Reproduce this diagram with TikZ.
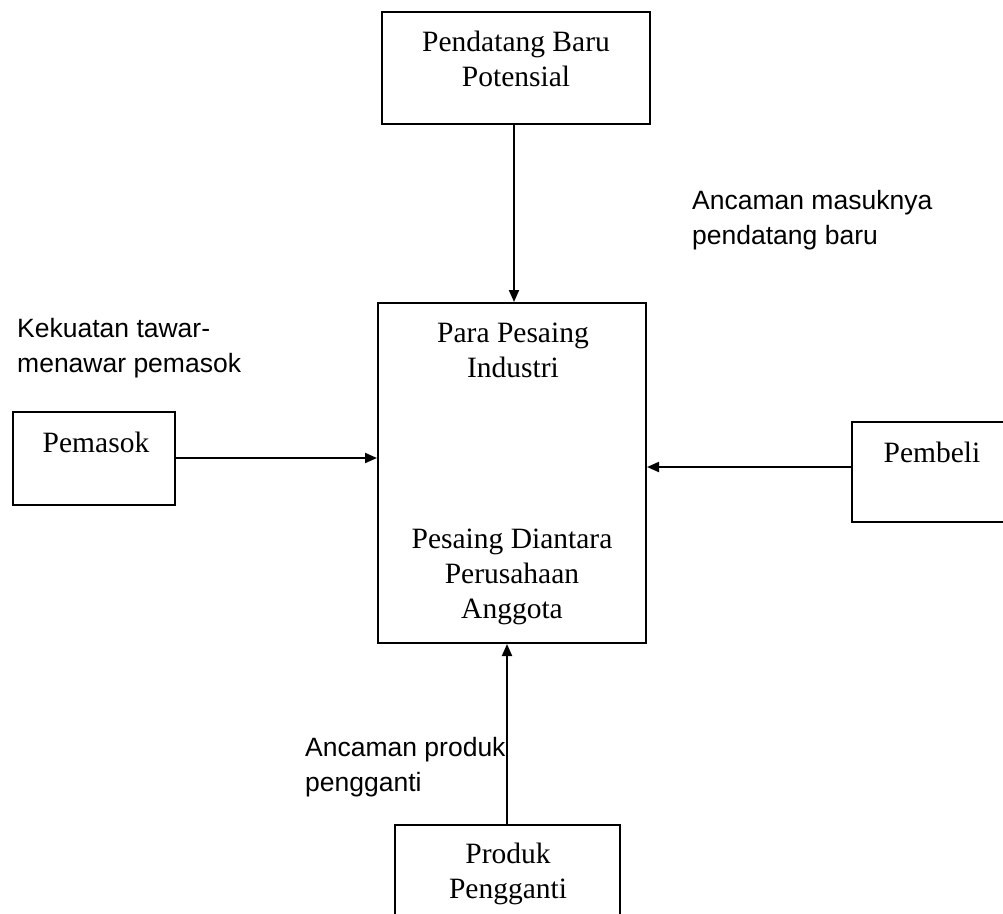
\documentclass[tikz,border=0pt]{standalone}
\usepackage{fontspec}
\setmainfont{Liberation Serif}
\newfontfamily\labelfont{Liberation Sans}
\usetikzlibrary{arrows.meta}
\begin{document}
\begin{tikzpicture}[x=1pt,y=-1pt,
  box/.style={draw, line width=2pt, inner sep=0pt},
  boxtext/.style={font=\fontsize{29.5}{35}\selectfont, align=center, inner sep=0pt},
  lbl/.style={font=\labelfont\fontsize{26.5}{35}\selectfont, align=left, anchor=west, inner sep=0pt},
  arr/.style={line width=2pt, -{Triangle[length=12pt,width=10pt]}}]
\useasboundingbox (0,0) rectangle (1003,913);
% boxes
\node[box, minimum width=268pt, minimum height=112pt] (top) at (516,68) {};
\node[boxtext] (toptext) at (516,58.5) {Pendatang Baru\\Potensial};
\node[box, minimum width=268pt, minimum height=340pt] (center) at (512,473) {};
\node[boxtext] (cpara) at (513,350) {Para Pesaing\\Industri};
\node[boxtext] (cpes) at (512,577) {Pesaing Diantara\\Perusahaan\\Anggota};
\node[box, minimum width=162pt, minimum height=93pt] (pemasok) at (94,458.5) {};
\node[boxtext] (pemasoktext) at (96,442) {Pemasok};
\node[box, minimum width=180pt, minimum height=100pt] (pembeli) at (942,472) {};
\node[boxtext] (pembelitext) at (932,452) {Pembeli};
\node[box, minimum width=225pt, minimum height=110pt] (produk) at (507.5,880) {};
\node[boxtext] (produktext) at (508,873.5) {Produk\\Pengganti};
% arrows
\draw[arr] ([xshift=-2pt]top.south) -- ([xshift=-2pt]top.south |- center.north);
\draw[arr] (pemasok.east |- 0,458) -- (center.west |- 0,458);
\draw[arr] (pembeli.west |- 0,467) -- (center.east |- 0,467);
\draw[arr] ([xshift=-0.5pt]produk.north) -- ([xshift=-0.5pt]produk.north |- center.south);
% labels
\node[lbl] (l1) at (692,220) {Ancaman masuknya\\pendatang baru};
\node[lbl] (l2) at (17,348.5) {Kekuatan tawar-\\menawar pemasok};
\node[lbl] (l3) at (305,767.5) {Ancaman produk\\pengganti};
\end{tikzpicture}
\end{document}
